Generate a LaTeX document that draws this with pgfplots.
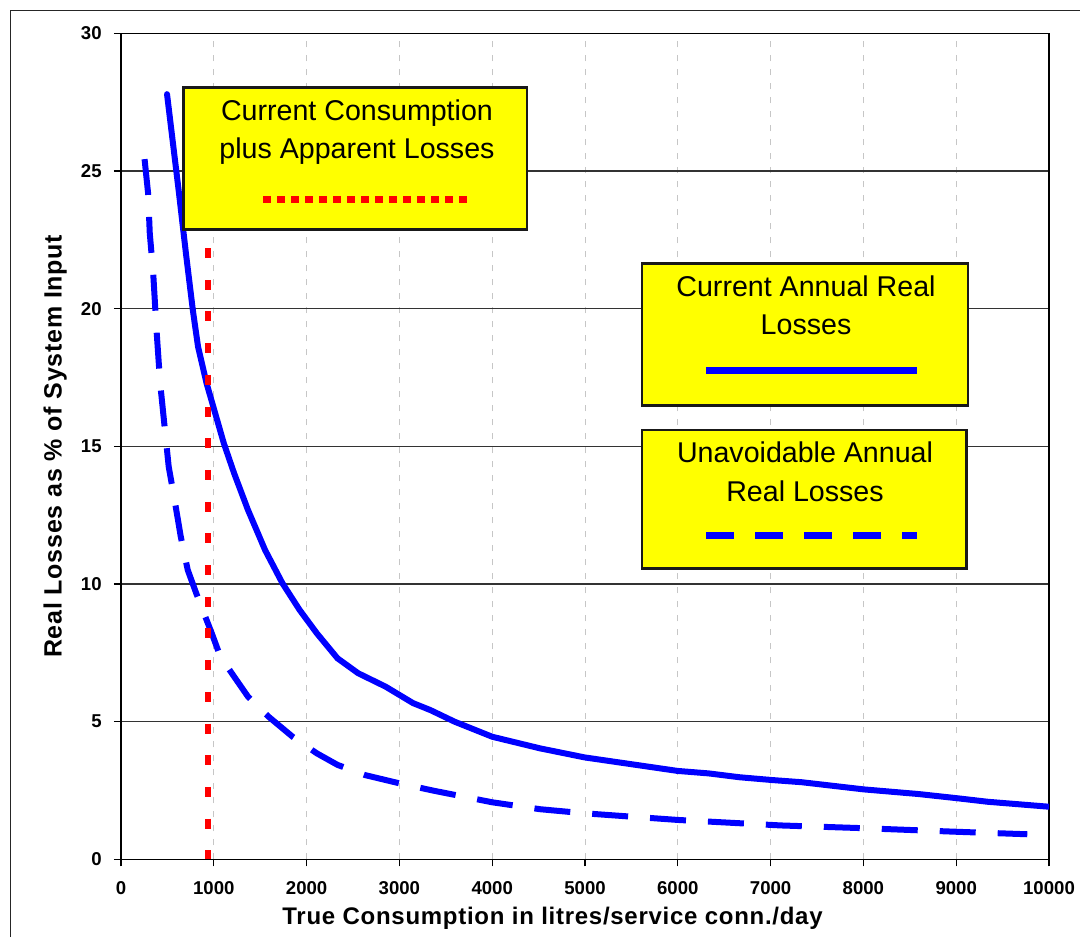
\documentclass[border=0pt]{standalone}
\usepackage{fontspec}
\setmainfont{Liberation Sans}
\newfontfamily\spacedfont{Liberation Sans}[LetterSpace=3]
\usepackage{pgfplots}
\pgfplotsset{compat=1.18}

\definecolor{lossblue}{HTML}{0000FF}
\definecolor{lossred}{HTML}{FF0000}
\definecolor{boxyellow}{HTML}{FFFF00}

\begin{document}
\begin{tikzpicture}
% pixel frame: 1 px = 0.5pt
\begin{scope}[x=0.5pt, y=-0.5pt]
    \useasboundingbox (0,0) rectangle (1080,937);
    \draw[black!85, line width=0.65pt] (10.3,937) -- (10.3,10.3) -- (1080,10.3);
\end{scope}

\begin{axis}[
        at={(60.5pt,-429.65pt)}, anchor=south west,
        scale only axis,
        width=464pt, height=413pt,
        xmin=0, xmax=10000,
        ymin=0, ymax=30,
        xtick={0,1000,...,10000},
        ytick={0,5,...,30},
        scaled ticks=false,
        tick pos=left,
        tick align=outside,
        major tick length=3.5pt,
        tick style={black, line width=0.6pt},
        axis line style={black, line width=0.7pt},
        xmajorgrids=true,
        ymajorgrids=true,
        x grid style={gray!45, line width=0.5pt, dash pattern=on 3pt off 4pt},
        y grid style={black!80, line width=0.55pt},
        /pgf/number format/assume math mode=true,
        /pgf/number format/1000 sep={},
        ticklabel style={font=\bfseries\fontsize{9.3}{11}\selectfont},
        yticklabel style={anchor=east, inner sep=0pt, xshift=-6pt},
        xticklabel style={anchor=north, inner sep=0pt, yshift=-7.5pt},
        xlabel={True Consumption in litres/service conn./day},
        ylabel={Real Losses as \% of System Input},
        xlabel style={at={(axis description cs:0.465,-0.0787)}, anchor=base,
                font=\spacedfont\bfseries\fontsize{12}{14}\selectfont},
        ylabel style={at={(axis description cs:-0.0639,0.5)}, anchor=base,
                font=\spacedfont\bfseries\fontsize{12.5}{14}\selectfont},
    ]
    % current annual real losses
    \addplot[lossblue, line width=3pt, line join=round, line cap=round]
    coordinates {
            (496,27.79) (625,24.19) (700,22.0) (774,19.95) (830,18.62)
            (922,17.29) (1015,16.2) (1108,15.11) (1219,14.02) (1368,12.69)
            (1553,11.23) (1739,10.03) (1924,9.06) (2110,8.21) (2333,7.30)
            (2555,6.76) (2852,6.27) (3149,5.67) (3334,5.42) (3594,5.0)
            (4002,4.45) (4515,4.03) (4998,3.70) (5999,3.21) (6333,3.12)
            (6667,2.98) (7013,2.88) (7335,2.80) (8003,2.54) (8597,2.37)
            (9006,2.22) (9340,2.09) (10000,1.91)
        };

    % unavoidable annual real losses
    \addplot[lossblue, line width=3pt, line join=round, dash pattern=on 18pt off 11pt]
    coordinates {
            (254,25.43) (292,24.19) (310,22.74) (347,21.29) (385,19.11)
            (422,17.29) (470,15.71) (514,14.26) (570,13.2) (644,11.72)
            (719,10.51) (811,9.66) (867,9.17) (978,8.21) (1071,7.36)
            (1220,6.63) (1368,5.91) (1590,5.18) (1850,4.45) (2110,3.85)
            (2333,3.43) (2629,3.06) (3000,2.76) (3372,2.49) (4002,2.07)
            (4515,1.82) (4998,1.67) (5999,1.43) (7112,1.23) (8003,1.13)
            (9006,1.00) (9766,0.91)
        };

    % current consumption plus apparent losses
    \addplot[lossred, line width=3pt, dash pattern=on 5pt off 10.85pt]
    coordinates {(935,22.2) (935,0)};
\end{axis}

\begin{scope}[x=0.5pt, y=-0.5pt]
    \tikzset{lbl/.style={anchor=base, inner sep=0pt, font=\fontsize{14.3}{17}\selectfont}}
    % box 1
    \draw[black!90, line width=1.3pt, fill=boxyellow] (183.5,87.7) rectangle (527,229.3);
    \node[lbl] at (357,120) {Current Consumption};
    \node[lbl] at (357,158.3) {plus Apparent Losses};
    \draw[lossred, line width=3.5pt, dash pattern=on 3.75pt off 3.25pt] (263,199.3) -- (467,199.3);
    % box 2
    \draw[black!90, line width=1.3pt, fill=boxyellow] (642,263.3) rectangle (968,405.7);
    \node[lbl] at (806,296) {Current Annual Real};
    \node[lbl] at (806,334.3) {Losses};
    \draw[lossblue, line width=3.5pt] (706,370) -- (917,370);
    % box 3
    \draw[black!90, line width=1.3pt, fill=boxyellow] (642,430) rectangle (966.3,568.7);
    \node[lbl] at (805,462.7) {Unavoidable Annual};
    \node[lbl] at (805,501.7) {Real Losses};
    \draw[lossblue, line width=3.5pt, dash pattern=on 14pt off 10.5pt] (706,535.3) -- (917,535.3);
\end{scope}
\end{tikzpicture}
\end{document}
